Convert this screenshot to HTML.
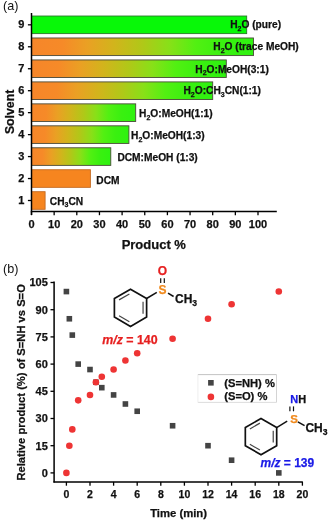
<!DOCTYPE html>
<html><head><meta charset="utf-8"><style>
html,body{margin:0;padding:0;background:#fff;}
svg{display:block;will-change:transform;}
text{font-family:"Liberation Sans", sans-serif;}
</style></head><body>
<svg width="329" height="522" viewBox="0 0 329 522">
<defs>
<linearGradient id="g" x1="0" x2="1" y1="0" y2="0"><stop offset="0" stop-color="#f6862a"/><stop offset="0.14" stop-color="#f68a28"/><stop offset="0.25" stop-color="#eaa024"/><stop offset="0.37" stop-color="#d2b41c"/><stop offset="0.50" stop-color="#b0c818"/><stop offset="0.62" stop-color="#88e018"/><stop offset="0.74" stop-color="#52f012"/><stop offset="0.86" stop-color="#3af010"/><stop offset="1" stop-color="#2ef210"/></linearGradient>
</defs>
<rect x="31.50" y="191.70" width="13.59" height="17.60" fill="#f6851f" stroke="#c46a22" stroke-width="0.9"/>
<rect x="31.50" y="169.74" width="58.89" height="17.60" fill="#f6851f" stroke="#c46a22" stroke-width="0.9"/>
<rect x="31.50" y="147.78" width="79.28" height="17.60" fill="url(#g)" stroke="#4a4a3a" stroke-width="0.9"/>
<rect x="31.50" y="125.82" width="97.40" height="17.60" fill="url(#g)" stroke="#4a4a3a" stroke-width="0.9"/>
<rect x="31.50" y="103.86" width="104.19" height="17.60" fill="url(#g)" stroke="#4a4a3a" stroke-width="0.9"/>
<rect x="31.50" y="81.90" width="181.20" height="17.60" fill="url(#g)" stroke="#4a4a3a" stroke-width="0.9"/>
<rect x="31.50" y="59.94" width="194.79" height="17.60" fill="url(#g)" stroke="#4a4a3a" stroke-width="0.9"/>
<rect x="31.50" y="37.98" width="221.97" height="17.60" fill="url(#g)" stroke="#4a4a3a" stroke-width="0.9"/>
<rect x="31.50" y="16.02" width="215.18" height="17.60" fill="#08f808" stroke="#2a7a2a" stroke-width="0.9"/>
<text x="49.80" y="204.90" font-size="10.2" font-weight="bold" fill="#111" stroke="#111" stroke-width="0.25">CH<tspan dy="2.5" font-size="7">3</tspan><tspan dy="-2.5">CN</tspan></text>
<text x="96.30" y="184.44" font-size="10.2" font-weight="bold" fill="#111" stroke="#111" stroke-width="0.25">DCM</text>
<text x="117.40" y="161.08" font-size="10.2" font-weight="bold" fill="#111" stroke="#111" stroke-width="0.25">DCM:MeOH (1:3)</text>
<text x="131.10" y="139.22" font-size="10.2" font-weight="bold" fill="#111" stroke="#111" stroke-width="0.25">H<tspan dy="2.5" font-size="7">2</tspan><tspan dy="-2.5">O:MeOH(1:3)</tspan></text>
<text x="139.10" y="117.06" font-size="10.2" font-weight="bold" fill="#111" stroke="#111" stroke-width="0.25">H<tspan dy="2.5" font-size="7">2</tspan><tspan dy="-2.5">O:MeOH(1:1)</tspan></text>
<text x="183.50" y="94.40" font-size="10.2" font-weight="bold" fill="#111" stroke="#111" stroke-width="0.25">H<tspan dy="2.5" font-size="7">2</tspan><tspan dy="-2.5">O:CH</tspan><tspan dy="2.5" font-size="7">3</tspan><tspan dy="-2.5">CN(1:1)</tspan></text>
<text x="195.30" y="72.74" font-size="10.2" font-weight="bold" fill="#111" stroke="#111" stroke-width="0.25">H<tspan dy="2.5" font-size="7">2</tspan><tspan dy="-2.5">O:MeOH(3:1)</tspan></text>
<text x="213.30" y="50.48" font-size="10.2" font-weight="bold" fill="#111" stroke="#111" stroke-width="0.25">H<tspan dy="2.5" font-size="7">2</tspan><tspan dy="-2.5">O (trace MeOH)</tspan></text>
<text x="230.20" y="28.12" font-size="10.2" font-weight="bold" fill="#111" stroke="#111" stroke-width="0.25">H<tspan dy="2.5" font-size="7">2</tspan><tspan dy="-2.5">O (pure)</tspan></text>
<line x1="31.5" y1="13" x2="31.5" y2="215" stroke="#000" stroke-width="1.5"/>
<line x1="30.8" y1="211.4" x2="276.8" y2="211.4" stroke="#000" stroke-width="1.5"/>
<line x1="27.9" y1="200.50" x2="31.5" y2="200.50" stroke="#000" stroke-width="1.3"/>
<text x="24.30" y="204.10" font-size="11" font-weight="bold" text-anchor="end" fill="#111" stroke="#111" stroke-width="0.25">1</text>
<line x1="27.9" y1="178.54" x2="31.5" y2="178.54" stroke="#000" stroke-width="1.3"/>
<text x="24.30" y="182.14" font-size="11" font-weight="bold" text-anchor="end" fill="#111" stroke="#111" stroke-width="0.25">2</text>
<line x1="27.9" y1="156.58" x2="31.5" y2="156.58" stroke="#000" stroke-width="1.3"/>
<text x="24.30" y="160.18" font-size="11" font-weight="bold" text-anchor="end" fill="#111" stroke="#111" stroke-width="0.25">3</text>
<line x1="27.9" y1="134.62" x2="31.5" y2="134.62" stroke="#000" stroke-width="1.3"/>
<text x="24.30" y="138.22" font-size="11" font-weight="bold" text-anchor="end" fill="#111" stroke="#111" stroke-width="0.25">4</text>
<line x1="27.9" y1="112.66" x2="31.5" y2="112.66" stroke="#000" stroke-width="1.3"/>
<text x="24.30" y="116.26" font-size="11" font-weight="bold" text-anchor="end" fill="#111" stroke="#111" stroke-width="0.25">5</text>
<line x1="27.9" y1="90.70" x2="31.5" y2="90.70" stroke="#000" stroke-width="1.3"/>
<text x="24.30" y="94.30" font-size="11" font-weight="bold" text-anchor="end" fill="#111" stroke="#111" stroke-width="0.25">6</text>
<line x1="27.9" y1="68.74" x2="31.5" y2="68.74" stroke="#000" stroke-width="1.3"/>
<text x="24.30" y="72.34" font-size="11" font-weight="bold" text-anchor="end" fill="#111" stroke="#111" stroke-width="0.25">7</text>
<line x1="27.9" y1="46.78" x2="31.5" y2="46.78" stroke="#000" stroke-width="1.3"/>
<text x="24.30" y="50.38" font-size="11" font-weight="bold" text-anchor="end" fill="#111" stroke="#111" stroke-width="0.25">8</text>
<line x1="27.9" y1="24.82" x2="31.5" y2="24.82" stroke="#000" stroke-width="1.3"/>
<text x="24.30" y="28.42" font-size="11" font-weight="bold" text-anchor="end" fill="#111" stroke="#111" stroke-width="0.25">9</text>
<line x1="31.50" y1="211.4" x2="31.50" y2="215.2" stroke="#000" stroke-width="1.3"/>
<text x="31.50" y="227.5" font-size="11" font-weight="bold" text-anchor="middle" fill="#111" stroke="#111" stroke-width="0.25">0</text>
<line x1="54.15" y1="211.4" x2="54.15" y2="215.2" stroke="#000" stroke-width="1.3"/>
<text x="54.15" y="227.5" font-size="11" font-weight="bold" text-anchor="middle" fill="#111" stroke="#111" stroke-width="0.25">10</text>
<line x1="76.80" y1="211.4" x2="76.80" y2="215.2" stroke="#000" stroke-width="1.3"/>
<text x="76.80" y="227.5" font-size="11" font-weight="bold" text-anchor="middle" fill="#111" stroke="#111" stroke-width="0.25">20</text>
<line x1="99.45" y1="211.4" x2="99.45" y2="215.2" stroke="#000" stroke-width="1.3"/>
<text x="99.45" y="227.5" font-size="11" font-weight="bold" text-anchor="middle" fill="#111" stroke="#111" stroke-width="0.25">30</text>
<line x1="122.10" y1="211.4" x2="122.10" y2="215.2" stroke="#000" stroke-width="1.3"/>
<text x="122.10" y="227.5" font-size="11" font-weight="bold" text-anchor="middle" fill="#111" stroke="#111" stroke-width="0.25">40</text>
<line x1="144.75" y1="211.4" x2="144.75" y2="215.2" stroke="#000" stroke-width="1.3"/>
<text x="144.75" y="227.5" font-size="11" font-weight="bold" text-anchor="middle" fill="#111" stroke="#111" stroke-width="0.25">50</text>
<line x1="167.40" y1="211.4" x2="167.40" y2="215.2" stroke="#000" stroke-width="1.3"/>
<text x="167.40" y="227.5" font-size="11" font-weight="bold" text-anchor="middle" fill="#111" stroke="#111" stroke-width="0.25">60</text>
<line x1="190.05" y1="211.4" x2="190.05" y2="215.2" stroke="#000" stroke-width="1.3"/>
<text x="190.05" y="227.5" font-size="11" font-weight="bold" text-anchor="middle" fill="#111" stroke="#111" stroke-width="0.25">70</text>
<line x1="212.70" y1="211.4" x2="212.70" y2="215.2" stroke="#000" stroke-width="1.3"/>
<text x="212.70" y="227.5" font-size="11" font-weight="bold" text-anchor="middle" fill="#111" stroke="#111" stroke-width="0.25">80</text>
<line x1="235.35" y1="211.4" x2="235.35" y2="215.2" stroke="#000" stroke-width="1.3"/>
<text x="235.35" y="227.5" font-size="11" font-weight="bold" text-anchor="middle" fill="#111" stroke="#111" stroke-width="0.25">90</text>
<line x1="258.00" y1="211.4" x2="258.00" y2="215.2" stroke="#000" stroke-width="1.3"/>
<text x="258.00" y="227.5" font-size="11" font-weight="bold" text-anchor="middle" fill="#111" stroke="#111" stroke-width="0.25">100</text>
<text x="153.8" y="249.3" font-size="13" font-weight="bold" text-anchor="middle" fill="#111" stroke="#111" stroke-width="0.25">Product %</text>
<text transform="translate(13.6,111.9) rotate(-90)" font-size="12.3" font-weight="bold" text-anchor="middle" fill="#111" stroke="#111" stroke-width="0.25">Solvent</text>
<text x="3" y="10" font-size="12.6" fill="#111">(a)</text>
<line x1="54.1" y1="281.5" x2="54.1" y2="482.59999999999997" stroke="#000" stroke-width="1.5"/>
<line x1="53.4" y1="481.9" x2="302.8" y2="481.9" stroke="#000" stroke-width="1.5"/>
<line x1="50.5" y1="472.90" x2="54.1" y2="472.90" stroke="#000" stroke-width="1.3"/>
<text x="47.8" y="476.80" font-size="11" font-weight="bold" text-anchor="end" fill="#111" stroke="#111" stroke-width="0.25">0</text>
<line x1="50.5" y1="445.70" x2="54.1" y2="445.70" stroke="#000" stroke-width="1.3"/>
<text x="47.8" y="449.60" font-size="11" font-weight="bold" text-anchor="end" fill="#111" stroke="#111" stroke-width="0.25">15</text>
<line x1="50.5" y1="418.50" x2="54.1" y2="418.50" stroke="#000" stroke-width="1.3"/>
<text x="47.8" y="422.40" font-size="11" font-weight="bold" text-anchor="end" fill="#111" stroke="#111" stroke-width="0.25">30</text>
<line x1="50.5" y1="391.30" x2="54.1" y2="391.30" stroke="#000" stroke-width="1.3"/>
<text x="47.8" y="395.20" font-size="11" font-weight="bold" text-anchor="end" fill="#111" stroke="#111" stroke-width="0.25">45</text>
<line x1="50.5" y1="364.10" x2="54.1" y2="364.10" stroke="#000" stroke-width="1.3"/>
<text x="47.8" y="368.00" font-size="11" font-weight="bold" text-anchor="end" fill="#111" stroke="#111" stroke-width="0.25">60</text>
<line x1="50.5" y1="336.90" x2="54.1" y2="336.90" stroke="#000" stroke-width="1.3"/>
<text x="47.8" y="340.80" font-size="11" font-weight="bold" text-anchor="end" fill="#111" stroke="#111" stroke-width="0.25">75</text>
<line x1="50.5" y1="309.70" x2="54.1" y2="309.70" stroke="#000" stroke-width="1.3"/>
<text x="47.8" y="313.60" font-size="11" font-weight="bold" text-anchor="end" fill="#111" stroke="#111" stroke-width="0.25">90</text>
<line x1="50.5" y1="282.50" x2="54.1" y2="282.50" stroke="#000" stroke-width="1.3"/>
<text x="47.8" y="286.40" font-size="11" font-weight="bold" text-anchor="end" fill="#111" stroke="#111" stroke-width="0.25">105</text>
<line x1="66.40" y1="481.9" x2="66.40" y2="485.7" stroke="#000" stroke-width="1.3"/>
<text x="66.40" y="497.5" font-size="10.5" font-weight="bold" text-anchor="middle" fill="#111" stroke="#111" stroke-width="0.25">0</text>
<line x1="90.00" y1="481.9" x2="90.00" y2="485.7" stroke="#000" stroke-width="1.3"/>
<text x="90.00" y="497.5" font-size="10.5" font-weight="bold" text-anchor="middle" fill="#111" stroke="#111" stroke-width="0.25">2</text>
<line x1="113.60" y1="481.9" x2="113.60" y2="485.7" stroke="#000" stroke-width="1.3"/>
<text x="113.60" y="497.5" font-size="10.5" font-weight="bold" text-anchor="middle" fill="#111" stroke="#111" stroke-width="0.25">4</text>
<line x1="137.20" y1="481.9" x2="137.20" y2="485.7" stroke="#000" stroke-width="1.3"/>
<text x="137.20" y="497.5" font-size="10.5" font-weight="bold" text-anchor="middle" fill="#111" stroke="#111" stroke-width="0.25">6</text>
<line x1="160.80" y1="481.9" x2="160.80" y2="485.7" stroke="#000" stroke-width="1.3"/>
<text x="160.80" y="497.5" font-size="10.5" font-weight="bold" text-anchor="middle" fill="#111" stroke="#111" stroke-width="0.25">8</text>
<line x1="184.40" y1="481.9" x2="184.40" y2="485.7" stroke="#000" stroke-width="1.3"/>
<text x="184.40" y="497.5" font-size="10.5" font-weight="bold" text-anchor="middle" fill="#111" stroke="#111" stroke-width="0.25">10</text>
<line x1="208.00" y1="481.9" x2="208.00" y2="485.7" stroke="#000" stroke-width="1.3"/>
<text x="208.00" y="497.5" font-size="10.5" font-weight="bold" text-anchor="middle" fill="#111" stroke="#111" stroke-width="0.25">12</text>
<line x1="231.60" y1="481.9" x2="231.60" y2="485.7" stroke="#000" stroke-width="1.3"/>
<text x="231.60" y="497.5" font-size="10.5" font-weight="bold" text-anchor="middle" fill="#111" stroke="#111" stroke-width="0.25">14</text>
<line x1="255.20" y1="481.9" x2="255.20" y2="485.7" stroke="#000" stroke-width="1.3"/>
<text x="255.20" y="497.5" font-size="10.5" font-weight="bold" text-anchor="middle" fill="#111" stroke="#111" stroke-width="0.25">16</text>
<line x1="278.80" y1="481.9" x2="278.80" y2="485.7" stroke="#000" stroke-width="1.3"/>
<text x="278.80" y="497.5" font-size="10.5" font-weight="bold" text-anchor="middle" fill="#111" stroke="#111" stroke-width="0.25">18</text>
<line x1="302.40" y1="481.9" x2="302.40" y2="485.7" stroke="#000" stroke-width="1.3"/>
<text x="302.40" y="497.5" font-size="10.5" font-weight="bold" text-anchor="middle" fill="#111" stroke="#111" stroke-width="0.25">20</text>
<text x="178.6" y="516.7" font-size="11.3" font-weight="bold" text-anchor="middle" fill="#111" stroke="#111" stroke-width="0.25">Time (min)</text>
<text transform="translate(25.2,382.4) rotate(-90)" font-size="11.2" font-weight="bold" text-anchor="middle" fill="#111" stroke="#111" stroke-width="0.25">Relative product (%) of S=NH vs S=O</text>
<text x="3" y="272.6" font-size="12.6" fill="#111">(b)</text>
<rect x="63.60" y="288.77" width="5.6" height="5.6" fill="#444"/>
<rect x="66.55" y="315.97" width="5.6" height="5.6" fill="#444"/>
<rect x="69.50" y="332.29" width="5.6" height="5.6" fill="#444"/>
<rect x="75.40" y="361.30" width="5.6" height="5.6" fill="#444"/>
<rect x="87.20" y="366.74" width="5.6" height="5.6" fill="#444"/>
<rect x="93.10" y="379.43" width="5.6" height="5.6" fill="#444"/>
<rect x="99.00" y="384.87" width="5.6" height="5.6" fill="#444"/>
<rect x="110.80" y="392.13" width="5.6" height="5.6" fill="#444"/>
<rect x="122.60" y="401.19" width="5.6" height="5.6" fill="#444"/>
<rect x="134.40" y="408.45" width="5.6" height="5.6" fill="#444"/>
<rect x="169.80" y="422.95" width="5.6" height="5.6" fill="#444"/>
<rect x="205.20" y="442.90" width="5.6" height="5.6" fill="#444"/>
<rect x="228.80" y="457.41" width="5.6" height="5.6" fill="#444"/>
<rect x="276.00" y="470.10" width="5.6" height="5.6" fill="#444"/>
<circle cx="66.40" cy="472.90" r="3.3" fill="#ee3434"/>
<circle cx="69.35" cy="445.70" r="3.3" fill="#ee3434"/>
<circle cx="72.30" cy="429.38" r="3.3" fill="#ee3434"/>
<circle cx="78.20" cy="400.37" r="3.3" fill="#ee3434"/>
<circle cx="90.00" cy="394.93" r="3.3" fill="#ee3434"/>
<circle cx="95.90" cy="382.23" r="3.3" fill="#ee3434"/>
<circle cx="101.80" cy="376.79" r="3.3" fill="#ee3434"/>
<circle cx="113.60" cy="369.54" r="3.3" fill="#ee3434"/>
<circle cx="125.40" cy="360.47" r="3.3" fill="#ee3434"/>
<circle cx="137.20" cy="353.22" r="3.3" fill="#ee3434"/>
<circle cx="172.60" cy="338.71" r="3.3" fill="#ee3434"/>
<circle cx="208.00" cy="318.77" r="3.3" fill="#ee3434"/>
<circle cx="231.60" cy="304.26" r="3.3" fill="#ee3434"/>
<circle cx="278.80" cy="291.57" r="3.3" fill="#ee3434"/>
<rect x="197.9" y="374.6" width="78.6" height="27.8" fill="#fff"/>
<line x1="197.9" y1="374.6" x2="276.5" y2="374.6" stroke="#bcbcbc" stroke-width="0.9"/>
<line x1="276.5" y1="374.6" x2="276.5" y2="402.4" stroke="#cfcfcf" stroke-width="0.9"/>
<line x1="197.9" y1="402.4" x2="276.5" y2="402.4" stroke="#d8d8d8" stroke-width="0.9"/>
<line x1="197.9" y1="374.6" x2="197.9" y2="402.4" stroke="#ececec" stroke-width="0.9"/>
<rect x="208.1" y="380.0" width="5.6" height="5.6" fill="#444"/>
<circle cx="210.9" cy="396.9" r="3.3" fill="#ee3434"/>
<text x="224.2" y="386.5" font-size="11.2" font-weight="bold" fill="#111" stroke="#111" stroke-width="0.25">(S=NH) %</text>
<text x="224.2" y="400.4" font-size="11.2" font-weight="bold" fill="#111" stroke="#111" stroke-width="0.25">(S=O) %</text>
<path d="M130.50,289.20 L146.61,298.50 L146.61,317.10 L130.50,326.40 L114.39,317.10 L114.39,298.50 Z" fill="none" stroke="#111" stroke-width="1.7" stroke-linejoin="miter"/>
<line x1="119.07" y1="299.89" x2="129.37" y2="293.94" stroke="#444" stroke-width="1.2"/>
<line x1="143.06" y1="301.85" x2="143.06" y2="313.75" stroke="#444" stroke-width="1.2"/>
<line x1="129.37" y1="321.66" x2="119.07" y2="315.71" stroke="#444" stroke-width="1.2"/>
<line x1="146.61" y1="298.50" x2="156.8" y2="292.4" stroke="#111" stroke-width="1.5"/>
<line x1="168" y1="293.1" x2="173.6" y2="296.5" stroke="#111" stroke-width="1.5"/>
<line x1="160.7" y1="278.3" x2="160.7" y2="283" stroke="#111" stroke-width="1.2"/>
<line x1="164.3" y1="278.3" x2="164.3" y2="283" stroke="#111" stroke-width="1.2"/>
<text x="162.6" y="293.7" font-size="12" font-weight="bold" text-anchor="middle" fill="#f08a1e" stroke="#f08a1e" stroke-width="0.25">S</text>
<text x="162.4" y="275.2" font-size="12" font-weight="bold" text-anchor="middle" fill="#e62020" stroke="#e62020" stroke-width="0.25">O</text>
<text x="175" y="302.9" font-size="12" font-weight="bold" fill="#111" stroke="#111" stroke-width="0.25">CH<tspan dy="2.8" font-size="8.6">3</tspan></text>
<text x="102.2" y="343.7" font-size="12.4" font-weight="bold" fill="#e62020" stroke="#e62020" stroke-width="0.25"><tspan font-style="italic">m/z</tspan> = 140</text>
<path d="M261.00,418.50 L276.68,427.55 L276.68,445.65 L261.00,454.70 L245.32,445.65 L245.32,427.55 Z" fill="none" stroke="#111" stroke-width="1.7" stroke-linejoin="miter"/>
<line x1="249.87" y1="428.91" x2="259.90" y2="423.12" stroke="#444" stroke-width="1.2"/>
<line x1="273.23" y1="430.81" x2="273.23" y2="442.39" stroke="#444" stroke-width="1.2"/>
<line x1="259.90" y1="450.08" x2="249.87" y2="444.29" stroke="#444" stroke-width="1.2"/>
<line x1="276.68" y1="427.55" x2="287.2" y2="421.2" stroke="#111" stroke-width="1.5"/>
<line x1="297.8" y1="421.9" x2="304.6" y2="425.7" stroke="#111" stroke-width="1.5"/>
<line x1="289.9" y1="406.4" x2="289.9" y2="411.3" stroke="#111" stroke-width="1.2"/>
<line x1="293.5" y1="406.4" x2="293.5" y2="411.3" stroke="#111" stroke-width="1.2"/>
<text x="294" y="422.7" font-size="11.5" font-weight="bold" text-anchor="middle" fill="#f08a1e" stroke="#f08a1e" stroke-width="0.25">S</text>
<text x="290.2" y="403.4" font-size="11" font-weight="bold" fill="#1a1ae6" stroke="#1a1ae6" stroke-width="0.25">N<tspan fill="#111" stroke="#111">H</tspan></text>
<text x="305.4" y="431.8" font-size="12" font-weight="bold" fill="#111" stroke="#111" stroke-width="0.25">CH<tspan dy="2.8" font-size="8.6">3</tspan></text>
<text x="260.5" y="467.3" font-size="12" font-weight="bold" fill="#1a1ae6" stroke="#1a1ae6" stroke-width="0.25"><tspan font-style="italic">m/z</tspan> = 139</text>
</svg>
</body></html>
